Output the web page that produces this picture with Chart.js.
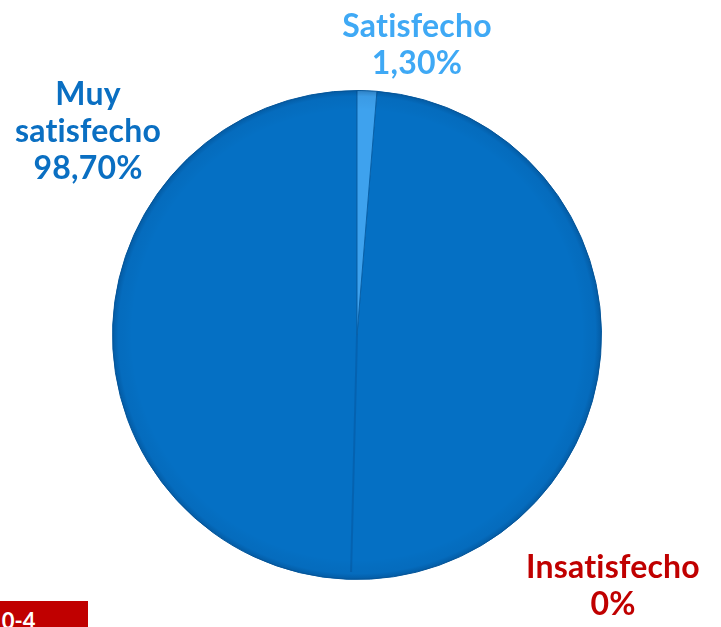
<!DOCTYPE html>
<html lang="es">
<head>
<meta charset="utf-8">
<script src="https://cdn.jsdelivr.net/npm/chart.js@4"></script>
<style>
  html, body { margin: 0; padding: 0; background: #ffffff; overflow: hidden; }
  #wrap { position: relative; width: 721px; height: 627px; }
  #pie { font-variant-ligatures: none; }
  #tag {
    position: absolute; left: 0; top: 601px; width: 88px; height: 26px;
    background: #c00000; color: #ffffff; overflow: hidden;
    font: bold 22px Lato, sans-serif; line-height: 22px;
  }
  #tag span { position: absolute; left: -11px; top: 9px; white-space: nowrap; }
</style>
</head>
<body>
<div id="wrap">
  <canvas id="pie" width="721" height="627"></canvas>
  <div id="tag"><span>10-4</span></div>
</div>
<script>
// Niveles de satisfacción (%)
const categorias = ['Muy satisfecho', 'Satisfecho', 'Insatisfecho'];
const porcentajes = [98.7, 1.3, 0];
const coloresSector = ['#0570c4', '#3ea2ee', '#c00000'];
const coloresTexto = ['#0a6fc2', '#3fa9f5', '#c00000'];

// posición de cada etiqueta (centro de la primera línea)
const posEtiquetas = [
  { x: 88, y: 95, lineas: ['Muy', 'satisfecho'] },
  { x: 417, y: 27, lineas: ['Satisfecho'] },
  { x: 613, y: 568, lineas: ['Insatisfecho'] }
];

const formato = v => v === 0 ? '0%' : v.toFixed(2).replace('.', ',') + '%';

// el sector "Satisfecho" queda justo a la derecha de las 12 en punto
const giro = porcentajes[1] / 100 * 360;

// borde en relieve alrededor de la tarta
const relieve = {
  id: 'relieve',
  afterDatasetsDraw(chart) {
    const arc = chart.getDatasetMeta(0).data[0];
    if (!arc) return;
    const { x, y, outerRadius: r } = arc;
    const ctx = chart.ctx;
    ctx.save();
    const g = ctx.createRadialGradient(x, y, r * 0.92, x, y, r);
    g.addColorStop(0, 'rgba(0,0,0,0)');
    g.addColorStop(0.7, 'rgba(0,30,70,0.05)');
    g.addColorStop(1, 'rgba(0,30,70,0.25)');
    ctx.fillStyle = g;
    ctx.beginPath();
    ctx.arc(x, y, r, 0, Math.PI * 2);
    ctx.fill();
    // pliegue sombreado de la mitad inferior
    const a = Math.PI / 2 + 0.025;
    ctx.strokeStyle = 'rgba(0,40,90,0.18)';
    ctx.lineWidth = 2;
    ctx.beginPath();
    ctx.moveTo(x, y);
    ctx.lineTo(x + Math.cos(a) * r * 0.97, y + Math.sin(a) * r * 0.97);
    ctx.stroke();
    ctx.restore();
  }
};

// etiquetas con nombre y porcentaje fuera de la tarta
const etiquetas = {
  id: 'etiquetas',
  afterDraw(chart) {
    const ctx = chart.ctx;
    ctx.save();
    ctx.font = 'bold 32px Lato, sans-serif';
    ctx.letterSpacing = '0.2px'; // evita la ligadura "ti" de Lato
    ctx.textAlign = 'center';
    ctx.textBaseline = 'middle';
    categorias.forEach((c, i) => {
      const p = posEtiquetas[i];
      const lineas = [...p.lineas, formato(porcentajes[i])];
      ctx.fillStyle = coloresTexto[i];
      lineas.forEach((t, k) => ctx.fillText(t, p.x, p.y + k * 37));
    });
    ctx.restore();
  }
};

new Chart(document.getElementById('pie'), {
  type: 'pie',
  data: {
    labels: categorias,
    datasets: [{
      data: porcentajes,
      backgroundColor: coloresSector,
      borderColor: '#0860a8',
      borderWidth: 1
    }]
  },
  options: {
    responsive: false,
    animation: false,
    rotation: giro,
    layout: { padding: { left: 112, right: 119, top: 90, bottom: 47 } },
    plugins: {
      legend: { display: false },
      tooltip: { enabled: false }
    }
  },
  plugins: [relieve, etiquetas]
});
</script>
</body>
</html>
